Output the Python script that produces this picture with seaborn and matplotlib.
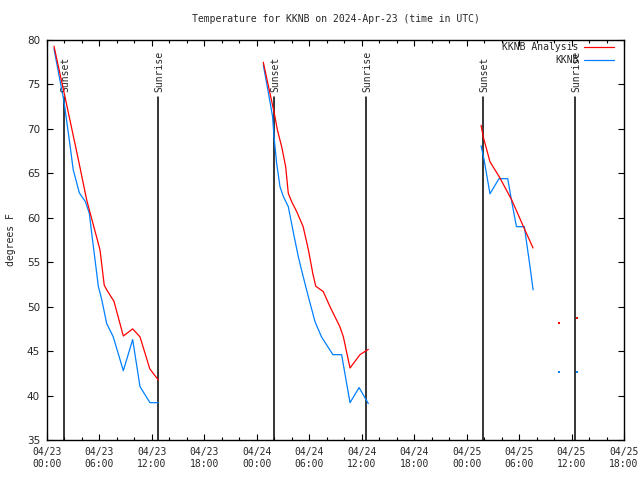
import numpy as np
import pandas as pd
import matplotlib
matplotlib.use("Agg")
import matplotlib.pyplot as plt
import seaborn as sns
from matplotlib.lines import Line2D
from matplotlib.ticker import MultipleLocator

# ---- data (hours since 2024-04-23 00:00 UTC, temperature in F) ----
analysis_day1_h = [0.8, 2.06, 3.66, 4.54, 5.11, 6.06, 6.55, 6.83, 7.66, 8.73, 9.80, 10.64, 11.76, 12.73]
analysis_day1_t = [79.3, 73.6, 66.2, 62.0, 59.9, 56.4, 52.4, 51.9, 50.6, 46.7, 47.5, 46.6, 43.0, 41.75]
analysis_day2_h = [24.74, 26.0, 26.35, 26.84, 27.3, 27.6, 27.99, 28.56, 29.3, 29.9, 30.4, 30.74, 31.6, 32.37, 33.5, 33.9, 34.66, 35.8, 36.75]
analysis_day2_t = [77.5, 71.75, 69.9, 68.0, 65.75, 62.75, 61.8, 60.7, 59.0, 56.4, 53.75, 52.3, 51.7, 50.0, 47.75, 46.6, 43.1, 44.6, 45.2]
analysis_day3_h = [49.65, 49.9, 50.67, 51.74, 53.16, 54.68, 55.6]
analysis_day3_t = [70.4, 69.1, 66.3, 64.6, 62.0, 58.6, 56.6]
analysis_iso_h = [58.6, 60.65]
analysis_iso_t = [48.2, 48.7]

obs_day1_h = [0.8, 1.94, 2.6, 3.0, 3.7, 4.4, 4.84, 5.11, 5.49, 5.87, 6.26, 6.83, 7.58, 8.73, 9.80, 10.64, 11.78, 12.73]
obs_day1_t = [79.0, 73.1, 68.4, 65.4, 62.8, 61.8, 60.5, 58.3, 55.3, 52.3, 50.8, 48.1, 46.6, 42.8, 46.3, 41.0, 39.2, 39.2]
obs_day2_h = [24.74, 25.3, 25.8, 25.97, 26.27, 26.65, 27.03, 27.6, 28.2, 28.75, 29.3, 29.9, 30.66, 31.4, 32.7, 33.7, 34.66, 35.7, 36.75]
obs_day2_t = [77.2, 74.2, 71.4, 69.1, 66.1, 63.5, 62.4, 61.25, 58.25, 55.6, 53.4, 51.1, 48.3, 46.6, 44.6, 44.6, 39.2, 40.9, 39.1]
obs_day3_h = [49.65, 49.84, 50.0, 50.67, 51.7, 52.7, 53.16, 53.7, 54.6, 55.25, 55.6]
obs_day3_t = [68.1, 67.25, 66.5, 62.7, 64.4, 64.4, 61.8, 59.0, 59.0, 54.5, 51.9]
obs_iso_h = [58.6, 60.65]
obs_iso_t = [42.7, 42.7]

sunset_h = [1.95, 25.98, 49.9]
sunrise_h = [12.72, 36.5, 60.45]

xtick_labels = ["04/23\n00:00", "04/23\n06:00", "04/23\n12:00", "04/23\n18:00",
                "04/24\n00:00", "04/24\n06:00", "04/24\n12:00", "04/24\n18:00",
                "04/25\n00:00", "04/25\n06:00", "04/25\n12:00", "04/25\n18:00"]

series_names = ["KKNB Analysis", "KKNB"]
series_colors = ["#ff0000", "#0080ff"]


def build(segs):
    rows = []
    for i, (h, t) in enumerate(segs):
        for a, b in zip(h, t):
            rows.append({"hour": a, "temp": b, "seg": i})
    return pd.DataFrame(rows)


df_an = build([(analysis_day1_h, analysis_day1_t), (analysis_day2_h, analysis_day2_t),
               (analysis_day3_h, analysis_day3_t)])
df_ob = build([(obs_day1_h, obs_day1_t), (obs_day2_h, obs_day2_t),
               (obs_day3_h, obs_day3_t)])

sns.set_style("white")
plt.rcParams["font.family"] = ["DejaVu Sans Mono", "DejaVu Sans"]

fig = plt.figure(figsize=(6.4, 4.8), dpi=100)
ax = fig.add_axes([47 / 640, 40 / 480, 577 / 640, 400 / 480])

# sunset / sunrise markers
for h in sunset_h + sunrise_h:
    ax.plot([h, h], [35, 73.6], color="black", lw=1.1, zorder=1)
for h in sunset_h:
    ax.text(h + 0.15, 74.2, "Sunset", rotation=90, ha="center", va="bottom", fontsize=7)
for h in sunrise_h:
    ax.text(h + 0.1, 74.2, "Sunrise", rotation=90, ha="center", va="bottom", fontsize=7)

sns.lineplot(data=df_an, x="hour", y="temp", units="seg", estimator=None, sort=False,
             color=series_colors[0], lw=0.9, ax=ax, legend=False, zorder=3)
sns.lineplot(data=df_ob, x="hour", y="temp", units="seg", estimator=None, sort=False,
             color=series_colors[1], lw=0.9, ax=ax, legend=False, zorder=2)
sns.scatterplot(x=analysis_iso_h, y=analysis_iso_t, color=series_colors[0], s=2,
                marker="s", linewidth=0, ax=ax, zorder=3)
sns.scatterplot(x=obs_iso_h, y=obs_iso_t, color=series_colors[1], s=2,
                marker="s", linewidth=0, ax=ax, zorder=3)

ax.set_xlim(0, 66)
ax.set_ylim(35, 80)
ax.set_xticks(np.arange(0, 67, 6))
ax.set_xticklabels(xtick_labels, fontsize=7)
ax.xaxis.set_minor_locator(MultipleLocator(2))
ax.set_yticks(np.arange(35, 81, 5))
ax.set_yticklabels([str(v) for v in range(35, 81, 5)], fontsize=7.5, family="DejaVu Sans")
ax.tick_params(which="both", direction="in", top=True, right=True, bottom=True, left=True,
               color="black", width=0.8)
ax.tick_params(which="major", length=4, pad=5)
ax.tick_params(which="minor", length=2)
for s in ax.spines.values():
    s.set_color("black")
    s.set_linewidth(1.0)

ax.set_xlabel("")
ax.set_ylabel("degrees F", fontsize=7, labelpad=8)
ax.set_title("Temperature for KKNB on 2024-Apr-23 (time in UTC)", fontsize=7, pad=13)

handles = [Line2D([0], [0], color=c, lw=0.9) for c in series_colors]
ax.legend(handles, series_names, loc="upper right", bbox_to_anchor=(0.982, 0.995),
          frameon=False, markerfirst=False, fontsize=7, handlelength=3.0,
          handletextpad=0.6, labelspacing=0.3, borderaxespad=0, borderpad=0)

fig.savefig("out.png", dpi=100)
